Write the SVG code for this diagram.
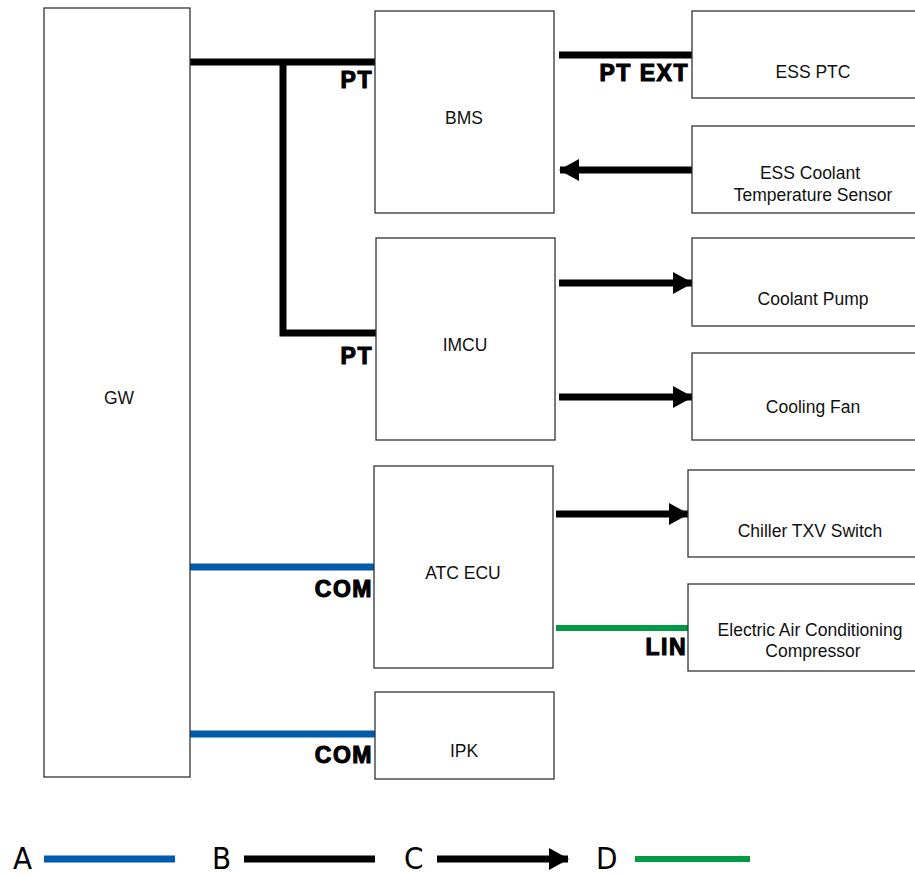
<svg xmlns="http://www.w3.org/2000/svg" width="915" height="876" viewBox="0 0 915 876">
<style>
.box{fill:#fff;stroke:#333;stroke-width:1.3}
.t{font-family:"Liberation Sans",Arial,sans-serif;font-size:17.5px;fill:#111;text-anchor:middle}
.lbl{font-family:"Liberation Sans",Arial,sans-serif;font-size:23px;font-weight:bold;letter-spacing:1.5px;fill:#000;stroke:#000;stroke-width:1.1;text-anchor:end}
.blk{stroke:#000;stroke-width:7;fill:none}
.blu{stroke:#005bac;stroke-width:7;fill:none}
.grn{stroke:#009a44;stroke-width:6;fill:none}
.leg{font-family:"DejaVu Sans Condensed","DejaVu Sans",sans-serif;font-size:31px;fill:#000}
</style>
<defs>
<marker id="ah" markerUnits="userSpaceOnUse" markerWidth="20" markerHeight="22" refX="19" refY="11" orient="auto">
<path d="M0,0 L20,11 L0,22 Z" fill="#000"/>
</marker>
</defs>
<rect width="915" height="876" fill="#fff"/>
<g id="connectors">
<path class="blk" d="M190,62 H375 M283,62 V333 H376"/>
<path class="blk" d="M559,55 H692"/>
<path class="blk" d="M692,170 H560" marker-end="url(#ah)"/>
<path class="blk" d="M559,283 H692" marker-end="url(#ah)"/>
<path class="blk" d="M559,397 H692" marker-end="url(#ah)"/>
<path class="blk" d="M556,514 H688" marker-end="url(#ah)"/>
<path class="grn" d="M556,628 H688"/>
<path class="blu" d="M190,567 H374"/>
<path class="blu" d="M190,734 H375"/>
<text class="lbl" x="373" y="88">PT</text>
<text class="lbl" x="373" y="364">PT</text>
<text class="lbl" x="689" y="81">PT EXT</text>
<text class="lbl" x="373" y="597">COM</text>
<text class="lbl" x="373" y="763">COM</text>
<text class="lbl" x="687" y="655">LIN</text>
</g>
<g id="GW"><rect class="box" x="44" y="8" width="146" height="769"/><text class="t" x="119" y="404">GW</text></g>
<g id="BMS"><rect class="box" x="375" y="11" width="179" height="202"/><text class="t" x="464" y="124">BMS</text></g>
<g id="ESS_PTC"><rect class="box" x="692" y="11" width="225" height="87"/><text class="t" x="813" y="78">ESS PTC</text></g>
<g id="ESS_Coolant"><rect class="box" x="692" y="126" width="225" height="87"/><text class="t" x="810" y="179">ESS Coolant</text><text class="t" x="813" y="201">Temperature Sensor</text></g>
<g id="IMCU"><rect class="box" x="376" y="238" width="179" height="202"/><text class="t" x="465" y="351">IMCU</text></g>
<g id="Coolant_Pump"><rect class="box" x="692" y="238" width="225" height="88"/><text class="t" x="813" y="305">Coolant Pump</text></g>
<g id="Cooling_Fan"><rect class="box" x="692" y="353" width="225" height="87"/><text class="t" x="813" y="413">Cooling Fan</text></g>
<g id="ATC_ECU"><rect class="box" x="374" y="466" width="179" height="202"/><text class="t" x="463" y="579">ATC ECU</text></g>
<g id="Chiller"><rect class="box" x="688" y="470" width="229" height="87"/><text class="t" x="810" y="537">Chiller TXV Switch</text></g>
<g id="EAC"><rect class="box" x="688" y="584" width="229" height="87"/><text class="t" x="810" y="636">Electric Air Conditioning</text><text class="t" x="813" y="657">Compressor</text></g>
<g id="IPK"><rect class="box" x="375" y="692" width="179" height="87"/><text class="t" x="464" y="757">IPK</text></g>
<g id="legend">
<text class="leg" x="13" y="869">A</text>
<path class="blu" d="M44,859 H175"/>
<text class="leg" x="212" y="869">B</text>
<path class="blk" d="M244,859 H375" stroke-width="8"/>
<text class="leg" x="404" y="869">C</text>
<path class="blk" d="M437,859 H568" marker-end="url(#ah)"/>
<text class="leg" x="596" y="869">D</text>
<path class="grn" d="M635,859 H750"/>
</g>
</svg>
